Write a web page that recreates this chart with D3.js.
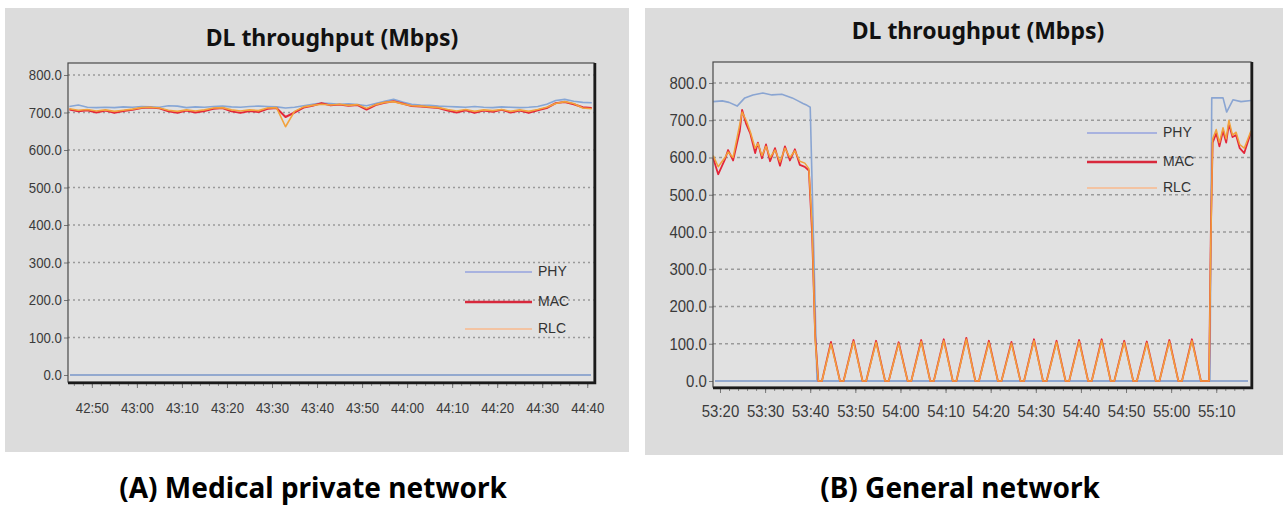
<!DOCTYPE html>
<html>
<head>
<meta charset="utf-8">
<script src="https://cdn.jsdelivr.net/npm/d3@7"></script>
<style>
body { margin: 0; background: #fff; }
</style>
</head>
<body>
<svg id="drawing_region" width="1285" height="514"></svg>
<script>
// (A) medical private network, one point every 2 s
const timeA = ["42:45","42:47","42:49","42:51","42:53","42:55","42:57","42:59",
    "43:01","43:03","43:05","43:07","43:09","43:11","43:13","43:15","43:17","43:19",
    "43:21","43:23","43:25","43:27","43:29","43:31","43:33","43:35","43:37","43:39",
    "43:41","43:43","43:45","43:47","43:49","43:51","43:53","43:55","43:57","43:59",
    "44:01","44:03","44:05","44:07","44:09","44:11","44:13","44:15","44:17","44:19",
    "44:21","44:23","44:25","44:27","44:29","44:31","44:33","44:35","44:37","44:39","44:41"];
const phyA = [716,720,714,713,714,713,715,714,
    716,715,714,718,717,713,715,714,716,717,
    715,714,716,717,716,715,712,714,718,722,
    725,724,722,723,721,718,724,730,735,728,
    722,720,719,717,716,715,714,716,714,713,
    715,714,713,714,716,722,732,735,730,727,726];
const macA = [708,703,706,700,705,699,704,707,
    712,713,711,703,699,705,700,704,710,712,
    703,699,704,701,710,712,688,700,713,718,
    725,719,721,718,720,708,720,726,730,724,
    717,716,714,712,705,700,706,699,705,702,
    707,700,705,699,706,712,725,728,722,714,712];
const rlcA = [710,706,708,704,707,703,706,709,
    713,714,712,706,703,707,704,707,712,713,
    707,704,707,705,712,713,662,703,715,719,
    722,720,722,719,721,711,721,727,729,723,
    718,717,715,713,708,704,708,703,707,705,
    708,703,707,703,708,714,724,729,724,712,710];
const xTicksA = ["42:50","43:00","43:10","43:20","43:30","43:40","43:50","44:00","44:10","44:20","44:30","44:40"];

// (B) general network
const timeBP = ["53:18.5","53:20.5","53:22.0","53:23.8","53:25.5","53:27.3","53:29.5","53:31.5",
    "53:33.7","53:36.0","53:37.3","53:38.4","53:39.3","53:40.0","53:41.5",
    "55:08.6","55:09.0","55:11.5","55:12.3","55:13.7","55:15.5","55:17.7"];
const phyB = [750,752,748,738,760,768,773,768,
    770,760,752,745,740,735,0,
    0,760,760,722,755,750,753];
const timeBM = ["53:18.5","53:19.6","53:21.1","53:21.8","53:22.9","53:24.4","53:24.9","53:25.8",
    "53:26.7","53:27.8","53:28.4","53:29.3","53:30.2","53:31.1","53:32.2","53:33.3","53:34.4",
    "53:35.5","53:36.6","53:37.7","53:38.8","53:39.7","53:40.4","53:41.1","53:41.8",
    "53:42.6",
    "53:44.6","53:46.6","53:47.4", "53:49.6","53:51.6","53:52.4", "53:54.6","53:56.6","53:57.4",
    "53:59.6","54:01.6","54:02.4", "54:04.6","54:06.6","54:07.4", "54:09.6","54:11.6","54:12.4",
    "54:14.6","54:16.6","54:17.4", "54:19.6","54:21.6","54:22.4", "54:24.6","54:26.6","54:27.4",
    "54:29.6","54:31.6","54:32.4", "54:34.6","54:36.6","54:37.4", "54:39.6","54:41.6","54:42.4",
    "54:44.6","54:46.6","54:47.4", "54:49.6","54:51.6","54:52.4", "54:54.6","54:56.6","54:57.4",
    "54:59.6","55:01.6","55:02.4", "55:04.6","55:06.6","55:08.4",
    "55:08.8","55:09.2","55:10.0","55:10.7","55:11.5","55:12.2","55:12.8","55:13.6",
    "55:14.4","55:15.2","55:16.2","55:17.7"];
const macB = [598,555,595,620,592,672,728,690,
    665,612,640,598,635,590,625,578,630,
    592,622,580,575,565,400,120,0,
    0,
    105,0,0, 110,0,0, 108,0,0,
    104,0,0, 110,0,0, 112,0,0,
    116,0,0, 108,0,0, 105,0,0,
    112,0,0, 108,0,0, 110,0,0,
    112,0,0, 108,0,0, 106,0,0,
    110,0,0, 112,0,0,
    400,640,665,630,672,640,690,655,
    660,625,612,668];
const rlcB = [605,575,600,615,600,690,722,700,
    670,625,638,605,630,600,620,588,625,
    600,618,590,585,570,420,110,0,
    0,
    100,0,0, 106,0,0, 104,0,0,
    101,0,0, 106,0,0, 108,0,0,
    112,0,0, 104,0,0, 101,0,0,
    108,0,0, 104,0,0, 106,0,0,
    108,0,0, 104,0,0, 102,0,0,
    106,0,0, 108,0,0,
    380,650,675,640,680,650,700,660,
    668,635,625,672];
const xTicksB = ["53:20","53:30","53:40","53:50","54:00","54:10","54:20","54:30","54:40","54:50","55:00","55:10"];

const yTicks = [0,100,200,300,400,500,600,700,800];
const seriesNames = ["PHY","MAC","RLC"];

const tickFont = 'Liberation Sans Narrow, Arial Narrow, Liberation Sans, sans-serif';

function toSec(s) {
    const p = s.split(':');
    return +p[0] * 60 + +p[1];
}
function fmtSec(v) {
    const m = Math.floor(v / 60), s = Math.round(v - m * 60);
    return m + ':' + (s < 10 ? '0' : '') + s;
}

const svg = d3.select('#drawing_region');

// panels
svg.append('rect').attr('x', 5).attr('y', 8).attr('width', 624).attr('height', 444).attr('fill', '#dcdcdc');
svg.append('rect').attr('x', 645).attr('y', 8).attr('width', 638).attr('height', 447).attr('fill', '#dcdcdc');

class LineChart {

    constructor( config, data ) {
        this.config = config;
        this.data = data;
        this.init();
    }

    init() {
        let self = this;
        const c = self.config;
        self.g = svg.append('g');

        self.xscale = d3.scaleLinear()
            .domain( c.domain.map(toSec) )
            .range( [c.left, c.right] );

        self.yscale = d3.scaleLinear()
            .domain( [0, 800] )
            .range( [c.zeroY, c.topY] );
    }

    render() {
        let self = this;
        const c = self.config;

        // title
        self.g.append('text')
            .attr('x', c.titleX).attr('y', c.titleY)
            .attr('text-anchor', 'middle')
            .attr('dominant-baseline', 'middle')
            .attr('font-family', 'Noto Sans, sans-serif')
            .attr('font-weight', 'bold')
            .attr('font-size', 23)
            .attr('fill', '#111')
            .text('DL throughput (Mbps)');

        // plot area
        self.g.append('rect')
            .attr('x', c.left).attr('y', c.top)
            .attr('width', c.right - c.left).attr('height', c.bottom - c.top)
            .attr('fill', '#e1e1e1');

        // grid
        self.g.selectAll('.grid')
            .data( yTicks.filter(d => d > 0) )
            .enter()
            .append('line')
            .attr('x1', c.left).attr('x2', c.right)
            .attr('y1', d => self.yscale(d)).attr('y2', d => self.yscale(d))
            .attr('stroke', '#9a9a9a')
            .attr('stroke-width', 1.3)
            .attr('stroke-dasharray', c.dash);

        // baseline at zero
        self.g.append('line')
            .attr('x1', c.left + 2).attr('x2', c.right - 3)
            .attr('y1', self.yscale(0)).attr('y2', self.yscale(0))
            .attr('stroke', '#93a9cf').attr('stroke-width', 2);

        // y axis
        const yaxis = d3.axisLeft( self.yscale )
            .tickValues( yTicks )
            .tickFormat( d3.format('.1f') )
            .tickSize(4)
            .tickPadding(3);
        const ya = self.g.append('g')
            .attr('transform', `translate(${c.left},0)`)
            .call( yaxis );
        ya.select('.domain').remove();
        ya.selectAll('line').attr('stroke', '#777');
        ya.selectAll('text')
            .attr('font-family', tickFont)
            .attr('font-size', c.fontSize)
            .attr('fill', '#3a3a3a')
            .attr('transform', 'scale(0.88,1)');

        // x axis, minor and major ticks
        const d0 = self.xscale.domain();
        const minor = d3.range( Math.ceil(d0[0] / 2) * 2, d0[1], 2 );
        const xm = self.g.append('g')
            .attr('transform', `translate(0,${c.bottom})`)
            .call( d3.axisBottom(self.xscale).tickValues(minor).tickSize(4).tickFormat('') );
        xm.select('.domain').remove();
        xm.selectAll('line').attr('stroke', '#888');

        const xaxis = d3.axisBottom( self.xscale )
            .tickValues( c.xTicks.map(toSec) )
            .tickFormat( fmtSec )
            .tickSize(6)
            .tickPadding(c.xPad);
        const xa = self.g.append('g')
            .attr('transform', `translate(0,${c.bottom})`)
            .call( xaxis );
        xa.select('.domain').remove();
        xa.selectAll('line').attr('stroke', '#777');
        xa.selectAll('text')
            .attr('font-family', tickFont)
            .attr('font-size', c.fontSize)
            .attr('fill', '#3a3a3a')
            .attr('transform', 'scale(0.88,1)');

        // lines
        const line = d3.line()
            .x( d => self.xscale(d[0]) )
            .y( d => self.yscale(d[1]) );

        self.data.forEach( s => {
            self.g.append('path')
                .datum( s.times.map((t, i) => [toSec(t), s.values[i]]) )
                .attr('d', line)
                .attr('fill', 'none')
                .attr('stroke', s.color)
                .attr('stroke-width', s.width)
                .attr('stroke-linejoin', 'round');
        });

        // box
        self.g.append('rect')
            .attr('x', c.left).attr('y', c.top)
            .attr('width', c.right - c.left).attr('height', c.bottom - c.top)
            .attr('fill', 'none')
            .attr('stroke', '#4a4a4a')
            .attr('stroke-width', 1.2);
        self.g.append('path')
            .attr('d', `M${c.left},${c.bottom + 1}H${c.right + 1}V${c.top}`)
            .attr('fill', 'none')
            .attr('stroke', '#1a1a1a')
            .attr('stroke-width', 2.5);

        // legend
        const legendColors = ['#a8b2df', '#d8283c', '#f3c3a2'];
        const lg = self.g.selectAll('.legend')
            .data( seriesNames )
            .enter()
            .append('g')
            .attr('transform', (d, i) => `translate(${c.legendX},${c.legendY[i]})`);
        lg.append('line')
            .attr('x1', 0).attr('x2', c.legendLen)
            .attr('stroke', (d, i) => legendColors[i])
            .attr('stroke-width', (d, i) => i == 1 ? 2.5 : 2);
        lg.append('text')
            .attr('x', c.legendLen + 6)
            .attr('dominant-baseline', 'middle')
            .attr('font-family', tickFont)
            .attr('font-size', 14)
            .attr('fill', '#333')
            .text( d => d );

        // caption
        svg.append('text')
            .attr('x', c.capX).attr('y', 490)
            .attr('text-anchor', 'middle')
            .attr('dominant-baseline', 'middle')
            .attr('font-family', 'Noto Sans, sans-serif')
            .attr('font-weight', 'bold')
            .attr('font-size', 28)
            .attr('fill', '#000')
            .text( c.caption );
    }
}

const chartA = new LineChart({
    left: 68, right: 594, top: 63, bottom: 382,
    zeroY: 375, topY: 75,
    domain: ["42:44.7", "44:41.5"],
    xTicks: xTicksA, xPad: 14, fontSize: 15, dash: '2,3',
    titleX: 332, titleY: 40,
    legendX: 465, legendY: [272, 302, 329], legendLen: 67,
    capX: 313, caption: '(A) Medical private network'
}, [
    { times: timeA, values: phyA, color: '#86a6d6', width: 1.6 },
    { times: timeA, values: macA, color: '#e3263a', width: 2 },
    { times: timeA, values: rlcA, color: '#f2a23c', width: 1.6 }
]);
chartA.render();

const chartB = new LineChart({
    left: 713, right: 1251, top: 62, bottom: 387,
    zeroY: 381, topY: 83,
    domain: ["53:18.45", "55:17.7"],
    xTicks: xTicksB, xPad: 12, fontSize: 17, dash: '3,3',
    titleX: 978, titleY: 33,
    legendX: 1087, legendY: [133, 162, 188], legendLen: 70,
    capX: 960, caption: '(B) General network'
}, [
    { times: timeBP, values: phyB, color: '#8aa5d2', width: 1.6 },
    { times: timeBM, values: macB, color: '#e3263a', width: 1.8 },
    { times: timeBM, values: rlcB, color: '#f2a23c', width: 1.5 }
]);
chartB.render();
</script>
</body>
</html>
